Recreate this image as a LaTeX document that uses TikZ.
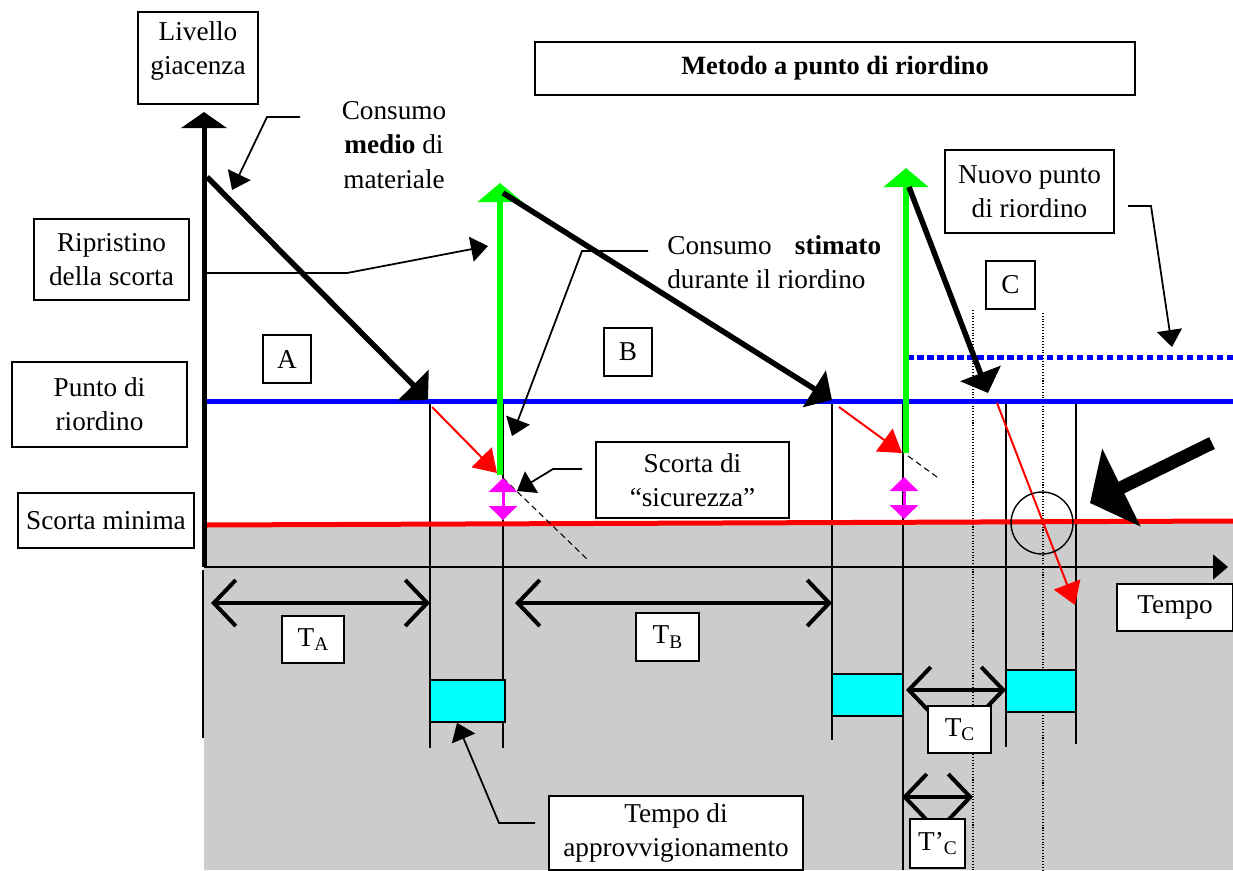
\documentclass[tikz,border=0pt]{standalone}
\usepackage{fontspec}
\setmainfont{Liberation Serif}
\usepackage{tikz}
\usetikzlibrary{arrows.meta, positioning}
\definecolor{stockgreen}{RGB}{0, 255, 0}
\definecolor{orderblue}{RGB}{0, 0, 255}
\definecolor{minred}{RGB}{255, 0, 0}
\definecolor{leadcyan}{RGB}{0, 255, 255}
\definecolor{safemagenta}{RGB}{255, 0, 255}
\definecolor{areagray}{RGB}{204, 204, 204}
\newcommand{\tsub}[1]{\raisebox{-0.35ex}{\fontsize{11}{11}\selectfont #1}}

\begin{document}
\begin{tikzpicture}[x=0.02cm, y=-0.02cm,
    every node/.style={font=\fontsize{15.5}{19.5}\selectfont},
    textbox/.style 2 args={draw, line width=0.9pt, fill=white, align=center, inner sep=0pt,
                   minimum width=#1, minimum height=#2},
    plain/.style={align=center, inner sep=0pt},
    leadbox/.style={draw, line width=0.9pt, fill=leadcyan, inner sep=0pt,
                   minimum width=#1, minimum height=0.84cm},
    tickline/.style={thick},
    guide/.style={semithick, densely dotted},
    stockline/.style={draw=#1, line width=0.1cm},
    refill/.style={draw=stockgreen, line width=0.12cm, -{Triangle[length=0.38cm,width=0.88cm]}},
    usage/.style={line width=0.11cm, -{Triangle[length=0.42cm,width=0.85cm]}},
    delay/.style={draw=minred, line width=0.04cm, -{Triangle[length=0.44cm,width=0.56cm]}},
    safety/.style={draw=safemagenta, line width=0.06cm,
                   {Triangle[length=0.28cm,width=0.56cm]}-{Triangle[length=0.28cm,width=0.56cm]}},
    span/.style={line width=0.08cm, >={Straight Barb[length=0.44cm,width=0.92cm]}, <->},
    callout/.style={line width=1pt, -{Triangle[length=0.34cm,width=0.5cm]}},
    estimate/.style={semithick, dash pattern=on 0.12cm off 0.08cm}
]
    \useasboundingbox (0,0) rectangle (1233,870);
    \fill[areagray] (204,524) -- (1233,521) -- (1233,870) -- (204,870) -- cycle;

    \draw[tickline] (203,570) -- (203,738);
    \draw[tickline] (430,404) -- (430,748);
    \draw[tickline] (503,404) -- (503,748);
    \draw[tickline] (832,403) -- (832,740);
    \draw[tickline] (903,403) -- (903,870);
    \draw[tickline] (1006,404) -- (1006,747);
    \draw[tickline] (1076,404) -- (1076,744);
    \draw[guide] (973,310) -- (973,870);
    \draw[guide] (1043,313) -- (1043,870);

    \draw[stockline=minred] (204,525) -- (1233,521);
    \draw[stockline=orderblue] (204,401) -- (1233,401);
    \draw[stockline=orderblue, dash pattern=on 0.13cm off 0.07cm] (907,357) -- (1233,357);

    \node[leadbox=1.5cm] (leadA) at (467.5,701) {};
    \node[leadbox=1.42cm] (leadB) at (867.5,695) {};
    \node[leadbox=1.4cm] (leadC) at (1041,691) {};

    \coordinate (origin) at (204,567);
    \coordinate (ytop) at (204,112);
    \coordinate (xend) at (1228,567);
    \draw[line width=0.1cm, -{Triangle[length=0.32cm,width=0.9cm]}] (origin) -- (ytop);
    \draw[thick, -{Triangle[length=0.3cm,width=0.5cm]}] (origin) -- (xend);

    \coordinate (fillA) at (500,475);
    \coordinate (topA) at (500,183);
    \coordinate (fillC) at (906,453);
    \coordinate (topC) at (906,168);
    \draw[refill] (fillA) -- (topA);
    \draw[refill] (fillC) -- (topC);

    \coordinate (peak0) at (207,177);
    \coordinate (hitA) at (428,400);
    \coordinate (peakB) at (503,193);
    \coordinate (hitB) at (832,400);
    \coordinate (peakC) at (909,187);
    \coordinate (hitC) at (988,393);
    \draw[usage] (peak0) -- (hitA);
    \draw[usage] (peakB) -- (hitB);
    \draw[usage] (peakC) -- (hitC);

    \coordinate (orderA) at (432,407);
    \coordinate (arriveA) at (497,473);
    \coordinate (orderB) at (839,407);
    \coordinate (arriveB) at (902,453);
    \coordinate (orderC) at (997,403);
    \coordinate (arriveC) at (1075,605);
    \draw[delay] (orderA) -- (arriveA);
    \draw[delay] (orderB) -- (arriveB);
    \draw[delay] (orderC) -- (arriveC);

    \draw[estimate] (503,478) -- (588,560);
    \draw[estimate] (908,456) -- (937,477);
    \draw[safety] (503,478) -- (503,520);
    \draw[safety] (904,477) -- (904,519);

    \node[draw, thick, circle, minimum size=1.24cm, inner sep=0pt] (check) at (1042,523) {};
    \coordinate (alertTail) at (1212,443);
    \coordinate (alertTip) at (1090,503);
    \draw[line width=0.26cm, -{Triangle[length=0.7cm,width=1.7cm]}] (alertTail) -- (alertTip);

    \draw[span] (211,603) -- (430,603);
    \draw[span] (515,603) -- (832,603);
    \draw[span] (906,690) -- (1006,690);
    \draw[span] (902,797) -- (973,797);

    \node[textbox={2.4cm}{1.84cm}, text depth=11pt] (level) at (198,58) {Livello\\giacenza};
    \node[textbox={12cm}{1.06cm}, font=\fontsize{15}{19.5}\selectfont\bfseries] (title) at (835,68.5) {Metodo a punto di riordino};
    \node[textbox={3.1cm}{1.62cm}] (restore) at (111.5,259.5) {Ripristino\\della scorta};
    \node[textbox={3.5cm}{1.7cm}] (reorder) at (99.5,404.5) {Punto di\\riordino};
    \node[textbox={3.52cm}{1.1cm}] (minimum) at (106,520.5) {Scorta minima};
    \node[textbox={0.96cm}{0.96cm}] (phaseA) at (287,359) {A};
    \node[textbox={0.96cm}{0.96cm}] (phaseB) at (628,352) {B};
    \node[textbox={0.98cm}{0.96cm}] (phaseC) at (1010.5,285) {C};
    \node[textbox={3.86cm}{1.52cm}] (safetybox) at (692.5,480) {Scorta di\\``sicurezza''};
    \node[textbox={3.38cm}{1.66cm}] (newpoint) at (1029.5,191.5) {Nuovo punto\\di riordino};
    \node[textbox={1.24cm}{0.94cm}] (tA) at (313,639.5) {T\tsub{A}};
    \node[textbox={1.26cm}{0.96cm}] (tB) at (667.5,637) {T\tsub{B}};
    \node[textbox={1.26cm}{0.94cm}] (tC) at (959.5,729.5) {T\tsub{C}};
    \node[textbox={1.1cm}{0.98cm}] (tCprime) at (937.5,843.5) {T'\tsub{C}};
    \node[textbox={2.32cm}{0.94cm}] (time) at (1175,607.5) {Tempo};
    \node[textbox={5.08cm}{1.48cm}] (supply) at (676,833) {Tempo di\\approvvigionamento};
    \node[plain] (meanuse) at (394,145) {Consumo\\\textbf{medio} di\\materiale};
    \node[plain, anchor=west, align=left] (estuse) at (667,262)
        {Consumo\hspace{0.85em}\textbf{stimato}\\durante il riordino};

    \coordinate (meanFoot) at (300,117);
    \coordinate (meanKnee) at (267,117);
    \coordinate (meanTip) at (232,190);
    \draw[callout] (meanFoot) -- (meanKnee) -- (meanTip);
    \coordinate (restoreFoot) at (207,273);
    \coordinate (restoreKnee) at (347,273);
    \coordinate (restoreTip) at (488,246);
    \draw[callout] (restoreFoot) -- (restoreKnee) -- (restoreTip);
    \coordinate (estFoot) at (648,251);
    \coordinate (estKnee) at (582,251);
    \coordinate (estTip) at (512,436);
    \draw[callout] (estFoot) -- (estKnee) -- (estTip);
    \coordinate (safeFoot) at (582,469);
    \coordinate (safeKnee) at (553,469);
    \coordinate (safeTip) at (517,491);
    \draw[callout] (safeFoot) -- (safeKnee) -- (safeTip);
    \coordinate (newFoot) at (1128,206);
    \coordinate (newKnee) at (1151,206);
    \coordinate (newTip) at (1172,347);
    \draw[callout] (newFoot) -- (newKnee) -- (newTip);
    \coordinate (supplyFoot) at (535,823);
    \coordinate (supplyKnee) at (499,823);
    \draw[callout] (supplyFoot) -- (supplyKnee) -- (leadA.south -| 457,0);
\end{tikzpicture}
\end{document}
